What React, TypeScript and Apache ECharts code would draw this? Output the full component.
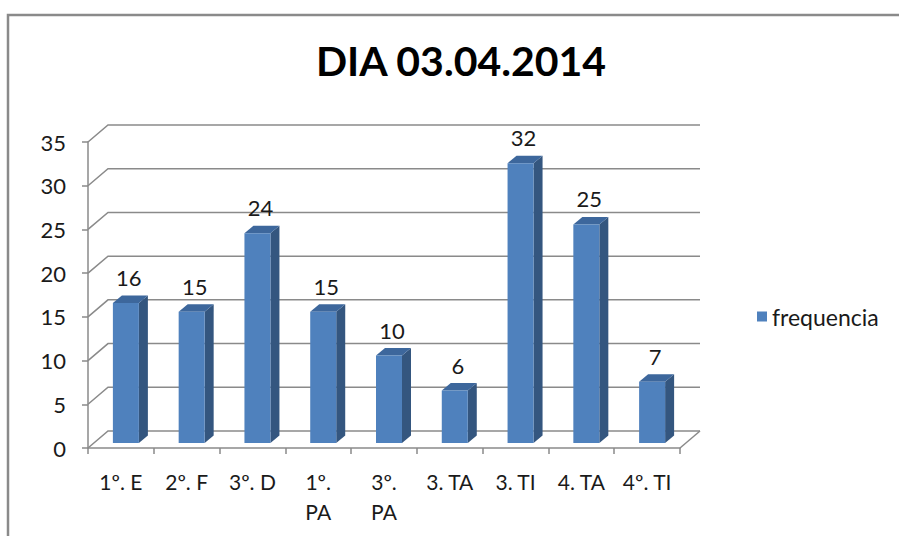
import React, { useEffect, useRef } from "react";
import * as echarts from "echarts";

const categories = ["1º. E", "2º. F", "3º. D", "1º. PA", "3º. PA", "3. TA", "3. TI", "4. TA", "4º. TI"];
const frequencia = [16, 15, 24, 15, 10, 6, 32, 25, 7];
const yTicks = [0, 5, 10, 15, 20, 25, 30, 35];
const titleText = "DIA 03.04.2014";
const seriesName = "frequencia";

const FONT = "Lato, Carlito, 'Open Sans', sans-serif";
const GRID_COLOR = "#8a8a8a";
const TEXT_COLOR = "#1a1a1a";
const DEPTH_X = 20;
const DEPTH_Y = 17;

export default function App() {
  const ref = useRef<HTMLDivElement>(null);
  useEffect(() => {
    if (!ref.current) return;
    const chart = echarts.init(ref.current, undefined, { renderer: "svg" });
    const option: any = {
      animation: false,
      backgroundColor: "#ffffff",
      textStyle: { fontFamily: FONT },
      title: {
        text: titleText,
        left: 461,
        textAlign: "center",
        top: 40,
        padding: 0,
        textStyle: { fontFamily: FONT, fontSize: 41, fontWeight: "bold", color: "#000000" },
      },
      legend: {
        data: [seriesName],
        left: 757,
        top: 305,
        padding: 0,
        icon: "rect",
        itemWidth: 10,
        itemHeight: 10,
        itemGap: 6,
        textStyle: { fontFamily: FONT, fontSize: 23, color: TEXT_COLOR },
      },
      graphic: [
        {
          type: "rect",
          shape: { x: 8, y: 15, width: 920, height: 560 },
          style: { fill: "none", stroke: "#8a8a8a", lineWidth: 2.5 },
          silent: true,
        },
      ],
      grid: { left: 88, right: 219, top: 142, bottom: 88, containLabel: false },
      xAxis: {
        type: "category",
        data: categories,
        axisLine: { show: true, lineStyle: { color: GRID_COLOR, width: 1.5 } },
        axisTick: { show: true, length: 6, lineStyle: { color: GRID_COLOR, width: 1.5 } },
        axisLabel: {
          fontFamily: FONT,
          fontSize: 21,
          color: TEXT_COLOR,
          margin: 18,
          lineHeight: 30,
          interval: 0,
          formatter: (v: string) => (v.endsWith("PA") ? v.replace(". ", ".\n") : v),
        },
        splitLine: { show: false },
      },
      yAxis: {
        type: "value",
        min: 0,
        max: 35,
        interval: 5,
        axisLine: { show: true, lineStyle: { color: GRID_COLOR, width: 1.5 } },
        axisTick: { show: true, length: 6, lineStyle: { color: GRID_COLOR, width: 1.5 } },
        axisLabel: { fontFamily: FONT, fontSize: 22, color: TEXT_COLOR, margin: 22 },
        splitLine: { show: false },
      },
      series: [
        {
          type: "custom",
          name: "grid3d",
          silent: true,
          z: 1,
          data: yTicks.map((v) => [0, v]),
          renderItem: (params: any, api: any) => {
            const cs = params.coordSys;
            const left = cs.x;
            const right = cs.x + cs.width;
            const y = api.coord([0, api.value(1)])[1];
            const children: any[] = [
              {
                type: "polyline",
                shape: {
                  points: [
                    [left, y],
                    [left + DEPTH_X, y - DEPTH_Y],
                    [right + DEPTH_X, y - DEPTH_Y],
                  ],
                },
                style: { stroke: GRID_COLOR, lineWidth: 1.5, fill: "none" },
              },
            ];
            if (api.value(1) === 0) {
              children.push({
                type: "line",
                shape: { x1: right, y1: y, x2: right + DEPTH_X, y2: y - DEPTH_Y },
                style: { stroke: GRID_COLOR, lineWidth: 1.5 },
              });
            }
            return { type: "group", children };
          },
        },
        {
          type: "custom",
          name: seriesName,
          z: 2,
          itemStyle: { color: "#4F81BD" },
          data: frequencia.map((v, i) => [i, v]),
          renderItem: (params: any, api: any) => {
            const idx = api.value(0);
            const val = api.value(1);
            const top = api.coord([idx, val]);
            const base = api.coord([idx, 0]);
            const bw = 26;
            const shiftX = 5;
            const shiftY = 5;
            const dx = 9;
            const dy = 7.5;
            const x0 = top[0] - bw / 2 + shiftX;
            const x1 = x0 + bw;
            const yt = top[1] - shiftY;
            const yb = base[1] - shiftY;
            return {
              type: "group",
              children: [
                {
                  type: "polygon",
                  shape: { points: [[x1, yt], [x1 + dx, yt - dy], [x1 + dx, yb - dy], [x1, yb]] },
                  style: { fill: "#34567F" },
                },
                {
                  type: "polygon",
                  shape: { points: [[x0, yt], [x0 + dx, yt - dy], [x1 + dx, yt - dy], [x1, yt]] },
                  style: { fill: "#3D679C" },
                },
                {
                  type: "rect",
                  shape: { x: x0, y: yt, width: bw, height: yb - yt },
                  style: { fill: "#4F81BD" },
                },
                {
                  type: "text",
                  style: {
                    text: String(val),
                    x: (x0 + x1) / 2 + 3,
                    y: yt - dy - 7,
                    textAlign: "center",
                    textVerticalAlign: "bottom",
                    fontFamily: FONT,
                    fontSize: 22,
                    fill: TEXT_COLOR,
                  },
                },
              ],
            };
          },
        },
      ],
    };
    chart.setOption(option);
    return () => chart.dispose();
  }, []);
  return (
    <div
      ref={ref}
      style={{ position: "fixed", left: 0, top: 0, width: 899, height: 536 }}
    />
  );
}
